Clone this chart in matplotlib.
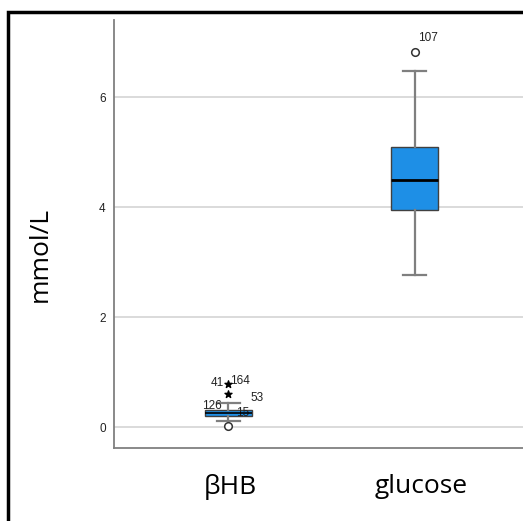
import matplotlib
matplotlib.use("Agg")
import matplotlib.pyplot as plt
from matplotlib.patches import Rectangle
from matplotlib.transforms import ScaledTranslation

categories = ["\u03b2HB", "glucose"]
q1 = [0.195, 3.95]
median = [0.25, 4.49]
q3 = [0.31, 5.09]
whis_lo = [0.11, 2.76]
whis_hi = [0.43, 6.47]
circle_outliers = [[0.02], [6.82]]
circle_labels = [["15"], ["107"]]
star_outliers = [[0.78, 0.60], []]
star_labels = [["41", "164"], []]
other_labels = ["53", "126"]
yticks = [0, 2, 4, 6]

fig = plt.figure(figsize=(5.23, 5.21), dpi=100)
ax = fig.add_axes([114/523, 1-448/521, 1-114/523+0.01, (448-20)/521])

stats = []
for i, c in enumerate(categories):
    stats.append(dict(label=c, q1=q1[i], med=median[i], q3=q3[i],
                      whislo=whis_lo[i], whishi=whis_hi[i], fliers=[]))
pos = [1, 2]
bp = ax.bxp(stats, positions=pos, widths=0.255, patch_artist=True,
            showfliers=False,
            boxprops=dict(facecolor="#1E8FE6", edgecolor="#404040", linewidth=1.0),
            medianprops=dict(color="black", linewidth=2.0),
            whiskerprops=dict(color="#7f7f7f", linewidth=1.6),
            capprops=dict(color="#7f7f7f", linewidth=1.6),
            capwidths=0.12, zorder=3)
bp["medians"][0].set_linewidth(1.2)

for i, p in enumerate(pos):
    ys = circle_outliers[i]
    ax.scatter([p]*len(ys), ys, s=30, facecolors="white", edgecolors="#333333",
               linewidths=1.1, zorder=4)
    ys2 = star_outliers[i]
    if ys2:
        ax.scatter([p]*len(ys2), ys2, s=28, marker="*", color="black", zorder=4)

lab_font = dict(fontsize=8.5, family="Liberation Sans", color="#222222")
ax.text(2.02, 6.96, circle_labels[1][0], ha="left", va="bottom", **lab_font)
ax.text(0.975, 0.70, star_labels[0][0], ha="right", va="bottom", **lab_font)
ax.text(1.01, 0.72, star_labels[0][1], ha="left", va="bottom", **lab_font)
ax.text(1.12, 0.42, other_labels[0], ha="left", va="bottom", **lab_font)
ax.text(0.86, 0.28, other_labels[1], ha="left", va="bottom", **lab_font)
ax.text(1.04, 0.15, circle_labels[0][0], ha="left", va="bottom", **lab_font)

ax.set_xlim(0.386, 2.61)
ax.set_ylim(-0.38, 7.4)
ax.set_yticks(yticks)
ax.set_yticklabels([str(t) for t in yticks], fontsize=8.5, family="Liberation Sans", color="#222222")
ax.yaxis.grid(True, color="#d4d4d4", linewidth=1.2, zorder=0)
ax.set_axisbelow(True)
ax.tick_params(axis="y", length=0, pad=6)
ax.tick_params(axis="x", length=0, pad=19)
ax.set_xticks(pos)
ax.set_xticklabels(categories, fontsize=19, family=["Open Sans", "DejaVu Sans"])
for lbl, dx in zip(ax.get_xticklabels(), [2, 7]):
    lbl.set_transform(lbl.get_transform() + ScaledTranslation(dx/100, 0, fig.dpi_scale_trans))
for s in ["top", "right"]:
    ax.spines[s].set_visible(False)
for s in ["left", "bottom"]:
    ax.spines[s].set_color("#808080")
    ax.spines[s].set_linewidth(1.3)

fig.text(40/523, 1-254/521, "mmol/L", rotation=90, ha="center", va="center",
         fontsize=19, family="Open Sans")

fig.patches.append(Rectangle((8/523, -0.1), 1.2, 1+0.1-12/521, transform=fig.transFigure,
                             fill=False, edgecolor="black", linewidth=2.5, figure=fig))

fig.savefig("out.png", dpi=100)
